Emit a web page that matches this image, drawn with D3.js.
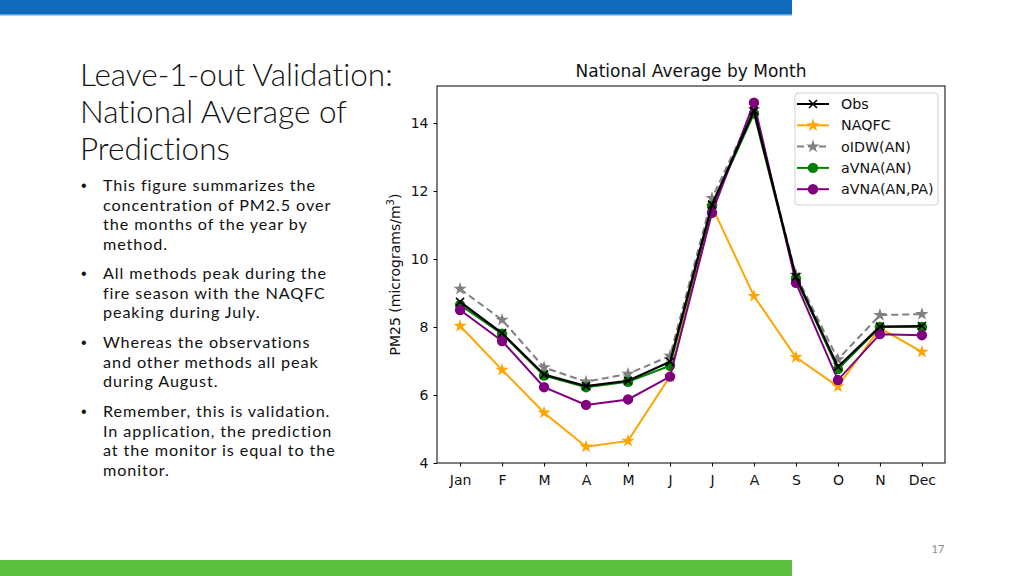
<!DOCTYPE html>
<html><head><meta charset="utf-8">
<script src="https://cdn.jsdelivr.net/npm/d3@7"></script>
<style>
html,body{margin:0;padding:0;background:#fff;}
svg{display:block;}
text{font-variant-ligatures:none;}
</style></head>
<body>
<svg id="c" width="1024" height="576"></svg>
<script>
// ---- data ----
const months = ["Jan","F","M","A","M","J","J","A","S","O","N","Dec"];
const obs    = [8.74, 7.82, 6.60, 6.26, 6.42, 6.98, 11.60, 14.36, 9.47, 6.83, 8.01, 8.03];
const naqfc  = [8.03, 6.74, 5.48, 4.48, 4.65, 6.55, 11.54, 8.91, 7.11, 6.25, 7.97, 7.27];
const oidw   = [9.12, 8.21, 6.81, 6.39, 6.62, 7.15, 11.79, 14.40, 9.53, 7.05, 8.35, 8.38];
const avnaAN = [8.65, 7.80, 6.57, 6.23, 6.39, 6.86, 11.56, 14.28, 9.43, 6.76, 8.00, 8.00];
const avnaANPA = [8.50, 7.59, 6.23, 5.71, 5.87, 6.54, 11.36, 14.60, 9.30, 6.44, 7.79, 7.76];
const yTicks = [4, 6, 8, 10, 12, 14];
const seriesNames = ["Obs","NAQFC","oIDW(AN)","aVNA(AN)","aVNA(AN,PA)"];
const titleLines = ["Leave-1-out Validation:","National Average of","Predictions"];
const bullets = [
  ["This figure summarizes the","concentration of PM2.5 over","the months of the year by","method."],
  ["All methods peak during the","fire season with the NAQFC","peaking during July."],
  ["Whereas the observations","and other methods all peak","during August."],
  ["Remember, this is validation.","In application, the prediction","at the monitor is equal to the","monitor."]
];

const svg = d3.select("#c");

// slide decorations
svg.append("rect").attr("x",0).attr("y",0).attr("width",792).attr("height",15).attr("fill","#116bbb");
svg.append("rect").attr("x",0).attr("y",14).attr("width",792).attr("height",1.5).attr("fill","#5a9fe0");
svg.append("rect").attr("x",0).attr("y",560).attr("width",792).attr("height",16).attr("fill","#5cbf3e");
svg.append("text").attr("x",938).attr("y",553).attr("text-anchor","middle")
  .attr("font-family","Lato, 'Open Sans', sans-serif").attr("font-size",11).attr("fill","#8a8a8a").text("17");

// slide title
const tt = svg.append("text").attr("font-family","Lato, sans-serif").attr("font-weight",300)
  .attr("font-size",31.5).attr("fill","#111");
titleLines.forEach((l,i)=>tt.append("tspan").attr("x",80).attr("y",86+i*37).text(l));

// bullets
const bStarts = [191, 279, 348, 417];
bullets.forEach((b,bi)=>{
  svg.append("text").attr("x",81).attr("y",bStarts[bi]).attr("font-family","Arial, sans-serif")
    .attr("font-size",16).attr("fill","#111").text("•");
  b.forEach((l,i)=>svg.append("text").attr("x",103).attr("y",bStarts[bi]+i*19.5)
    .attr("font-family","Lato, sans-serif").attr("font-size",16.2).attr("letter-spacing",0.9)
    .attr("fill","#111").text(l));
});

// chart
const L=437, R=945, T=86, B=463;
const x = d3.scaleLinear().domain([-0.55, 11.55]).range([L,R]);
const y = d3.scaleLinear().domain([4, 15.09]).range([B,T]);
const font = "'DejaVu Sans', sans-serif";

svg.append("text").attr("x",(L+R)/2).attr("y",77).attr("text-anchor","middle")
  .attr("font-family",font).attr("font-size",17).attr("fill","#111").text("National Average by Month");

const xAxis = svg.append("g").attr("transform",`translate(0,${B})`)
  .call(d3.axisBottom(x).tickValues(d3.range(12)).tickFormat(i=>months[i]).tickSize(3.5).tickPadding(5));
const yAxis = svg.append("g").attr("transform",`translate(${L},0)`)
  .call(d3.axisLeft(y).tickValues(yTicks).tickSize(3.5).tickPadding(5));
[xAxis,yAxis].forEach(g=>{
  g.select(".domain").remove();
  g.selectAll("line").attr("stroke","#000").attr("stroke-width",1);
  g.selectAll("text").attr("font-family",font).attr("font-size",14).attr("fill","#111");
});
xAxis.selectAll("text").attr("dy","0.95em");

const yl = svg.append("text").attr("transform",`translate(400,${(T+B)/2}) rotate(-90)`)
  .attr("text-anchor","middle").attr("font-family",font).attr("font-size",14).attr("fill","#111");
yl.append("tspan").text("PM25 (micrograms/m");
yl.append("tspan").attr("font-size",10).attr("dy",-6).text("3");
yl.append("tspan").attr("dy",6).text(")");

const seriesDefs = [
  {name:seriesNames[1], vals:naqfc, color:"#ffa500", marker:"star", dash:null},
  {name:seriesNames[2], vals:oidw, color:"#808080", marker:"star", dash:"7,4"},
  {name:seriesNames[3], vals:avnaAN, color:"#008000", marker:"circle", dash:null},
  {name:seriesNames[4], vals:avnaANPA, color:"#800080", marker:"circle", dash:null},
  {name:seriesNames[0], vals:obs, color:"#000000", marker:"x", dash:null},
];
const line = d3.line().x((d,i)=>x(i)).y(d=>y(d));
const plot = svg.append("g");

function drawMarker(g, type, cx, cy, color){
  if(type==="circle"){
    g.append("circle").attr("cx",cx).attr("cy",cy).attr("r",5.2).attr("fill",color);
  } else if(type==="star"){
    g.append("path").attr("d",d3.symbol(d3.symbolStar,55)()).attr("transform",`translate(${cx},${cy})`).attr("fill",color);
  } else {
    const s=4;
    g.append("path").attr("d",`M${cx-s},${cy-s}L${cx+s},${cy+s}M${cx-s},${cy+s}L${cx+s},${cy-s}`)
      .attr("stroke",color).attr("stroke-width",1.6).attr("fill","none");
  }
}

seriesDefs.forEach(s=>{
  const g = plot.append("g");
  g.append("path").datum(s.vals).attr("d",line).attr("fill","none").attr("stroke",s.color)
    .attr("stroke-width",s.marker==="x"?2.2:2).attr("stroke-dasharray",s.dash);
  s.vals.forEach((v,i)=>drawMarker(g, s.marker, x(i), y(v), s.color));
});

// frame
svg.append("rect").attr("x",L).attr("y",T).attr("width",R-L).attr("height",B-T)
  .attr("fill","none").attr("stroke","#000").attr("stroke-width",1);

// legend
const lg = svg.append("g");
lg.append("rect").attr("x",795).attr("y",93).attr("width",143).attr("height",112).attr("rx",3)
  .attr("fill","#fff").attr("fill-opacity",0.8).attr("stroke","#d0d0d0").attr("stroke-width",1);
const legendOrder = [seriesDefs[4],seriesDefs[0],seriesDefs[1],seriesDefs[2],seriesDefs[3]];
legendOrder.forEach((s,i)=>{
  const ly = 104 + i*21.3;
  lg.append("line").attr("x1",797).attr("x2",829).attr("y1",ly).attr("y2",ly)
    .attr("stroke",s.color).attr("stroke-width",2).attr("stroke-dasharray",s.dash);
  drawMarker(lg, s.marker, 813, ly, s.color);
  lg.append("text").attr("x",841).attr("y",ly).attr("dy","0.35em").attr("font-family",font)
    .attr("font-size",14.3).attr("fill","#111").text(s.name);
});
</script>
</body></html>
